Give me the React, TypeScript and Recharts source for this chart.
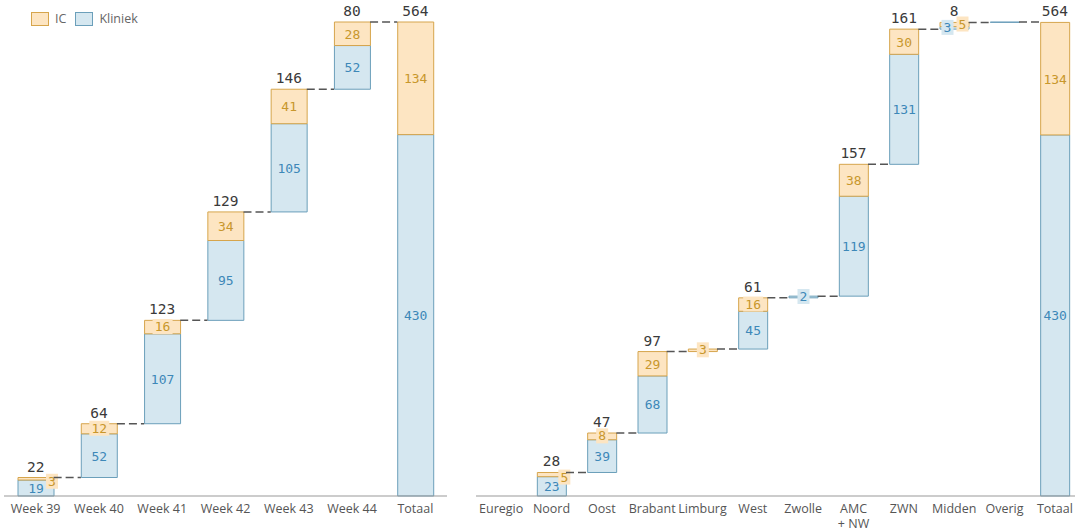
import React from 'react';
import { ComposedChart, Bar, Line, XAxis, YAxis, LabelList } from 'recharts';

// Left panel: weeks
const weekCats = ['Week 39', 'Week 40', 'Week 41', 'Week 42', 'Week 43', 'Week 44', 'Totaal'];
const weekKliniek = [19, 52, 107, 95, 105, 52, 430];
const weekIC = [3, 12, 16, 34, 41, 28, 134];

// Right panel: regions
const regionCats = ['Euregio', 'Noord', 'Oost', 'Brabant', 'Limburg', 'West', 'Zwolle', 'AMC\n+ NW', 'ZWN', 'Midden', 'Overig', 'Totaal'];
const regionKliniek = [0, 23, 39, 68, 0, 45, 2, 119, 131, 3, 0.5, 430];
const regionIC = [0, 5, 8, 29, 3, 16, 0, 38, 30, 5, 0, 134];

const IC_FILL = '#fde5c2';
const IC_STROKE = '#d6a54c';
const IC_TEXT = '#c8972c';
const KL_FILL = '#d5e7f0';
const KL_STROKE = '#6b9fba';
const KL_TEXT = '#3d88b8';
const MONO = '"DejaVu Sans Mono", monospace';
const SANS = '"Open Sans", sans-serif';

type Row = { name: string; base: number; kliniek: number; ic: number; top: number };

function buildRows(cats: string[], kl: number[], ic: number[]): Row[] {
  let cum = 0;
  return cats.map((name, i) => {
    const isTotal = i === cats.length - 1;
    const base = isTotal ? 0 : cum;
    const top = base + kl[i] + ic[i];
    if (!isTotal) cum = top;
    return { name, base, kliniek: kl[i], ic: ic[i], top };
  });
}

const weekRows = buildRows(weekCats, weekKliniek, weekIC);
const regionRows = buildRows(regionCats, regionKliniek, regionIC);

// values below 1 are drawn as a sliver but get no label
const shown = (v: number) => (v >= 1 ? Math.round(v) : 0);

function SmallBox({ cx, cy, text, fill, color }: any) {
  const w = text.length * 8 + 4;
  return (
    <g>
      <rect x={cx - w / 2} y={cy - 8} width={w} height={15} fill={fill} />
      <text x={cx} y={cy + 4} textAnchor="middle" fontFamily={MONO} fontSize={13} fill={color}>{text}</text>
    </g>
  );
}

function makeSegLabel(rows: Row[], kind: 'kliniek' | 'ic') {
  return (props: any) => {
    const { x, y, width, height, value } = props;
    const row = rows.find((r) => r.name === value);
    if (!row) return null;
    const v = shown(row[kind]);
    if (!v) return null;
    const other = shown(kind === 'ic' ? row.kliniek : row.ic);
    const h = Math.abs(height);
    const cy = y + height / 2;
    const color = kind === 'ic' ? IC_TEXT : KL_TEXT;
    const fill = kind === 'ic' ? IC_FILL : KL_FILL;
    let cx = x + width / 2;
    if (h < 14) {
      let dy = 0;
      if (other > 0 && other < 6) cx = x + width / 2 + (kind === 'ic' ? 8 : -7);
      else if (kind === 'ic' && other >= 15 && h < 5) {
        cx = x + width - 2;
        dy = 3;
      }
      return <SmallBox cx={cx} cy={cy + dy} text={String(v)} fill={fill} color={color} />;
    }
    return (
      <text x={cx} y={cy + 5} textAnchor="middle" fontFamily={MONO} fontSize={13} fill={color}>{v}</text>
    );
  };
}

// total label above each bar plus dashed connector to the next bar
function makeTopLabel(rows: Row[], step: number, barSize: number) {
  return (props: any) => {
    const { x, y, value } = props;
    const i = rows.findIndex((r) => r.name === value);
    if (i < 0) return null;
    const row = rows[i];
    const showTotal = shown(row.kliniek) > 0 && shown(row.ic) > 0;
    return (
      <g>
        {i < rows.length - 1 && row.top > 0 && (
          <line
            x1={x + barSize / 2}
            x2={x + step - barSize / 2}
            y1={y}
            y2={y}
            stroke="#555"
            strokeWidth={1.5}
            strokeDasharray="8 4"
          />
        )}
        {showTotal && (
          <text x={x} y={y - 6} textAnchor="middle" fontFamily={MONO} fontSize={14.5} fill="#3a3a3a">
            {Math.round(row.kliniek + row.ic)}
          </text>
        )}
      </g>
    );
  };
}

function Tick(props: any) {
  const { x, y, payload } = props;
  const lines = String(payload.value).split('\n');
  return (
    <g transform={`translate(${x},${y})`}>
      {lines.map((l, i) => (
        <text key={i} x={0} y={9 + i * 15} textAnchor="middle" fontFamily={SANS} fontSize={12.5} fill="#555">{l}</text>
      ))}
    </g>
  );
}

function LegendBox() {
  const item = (label: string, fill: string, stroke: string) => (
    <span style={{ display: 'inline-flex', alignItems: 'center', marginRight: 9 }}>
      <span style={{ width: 16, height: 12, background: fill, border: `1px solid ${stroke}`, marginRight: 6 }} />
      <span>{label}</span>
    </span>
  );
  return (
    <div style={{ position: 'absolute', left: 31, top: 10, fontFamily: SANS, fontSize: 12.5, color: '#666', display: 'flex' }}>
      {item('IC', IC_FILL, IC_STROKE)}
      {item('Kliniek', KL_FILL, KL_STROKE)}
    </div>
  );
}

function Waterfall({ rows, width, margin, barSize }: { rows: Row[]; width: number; margin: any; barSize: number }) {
  const step = (width - margin.left - margin.right) / rows.length;
  return (
    <ComposedChart width={width} height={532} data={rows} margin={margin} barCategoryGap={0}>
      <XAxis dataKey="name" tick={<Tick />} tickLine={false} axisLine={{ stroke: '#999' }} interval={0} height={30} />
      <YAxis hide domain={[0, 564]} />
      <Bar dataKey="base" stackId="a" fill="transparent" barSize={barSize} isAnimationActive={false} />
      <Bar dataKey="kliniek" stackId="a" fill={KL_FILL} stroke={KL_STROKE} strokeWidth={1} barSize={barSize} isAnimationActive={false}>
        <LabelList dataKey="name" content={makeSegLabel(rows, 'kliniek')} />
      </Bar>
      <Bar dataKey="ic" stackId="a" fill={IC_FILL} stroke={IC_STROKE} strokeWidth={1} barSize={barSize} isAnimationActive={false}>
        <LabelList dataKey="name" content={makeSegLabel(rows, 'ic')} />
      </Bar>
      <Line dataKey="top" stroke="none" dot={false} activeDot={false} isAnimationActive={false}>
        <LabelList dataKey="name" content={makeTopLabel(rows, step, barSize)} />
      </Line>
    </ComposedChart>
  );
}

export default function App() {
  return (
    <div style={{ position: 'absolute', left: 0, top: 0, width: 1075, height: 532, overflow: 'hidden', background: '#fff' }}>
      <div style={{ position: 'absolute', left: 0, top: 0 }}>
        <Waterfall rows={weekRows} width={450} margin={{ top: 22, right: 3, bottom: 6, left: 4 }} barSize={36} />
      </div>
      <div style={{ position: 'absolute', left: 470, top: 0 }}>
        <Waterfall rows={regionRows} width={612} margin={{ top: 22, right: 2, bottom: 6, left: 6 }} barSize={29} />
      </div>
      <LegendBox />
    </div>
  );
}
